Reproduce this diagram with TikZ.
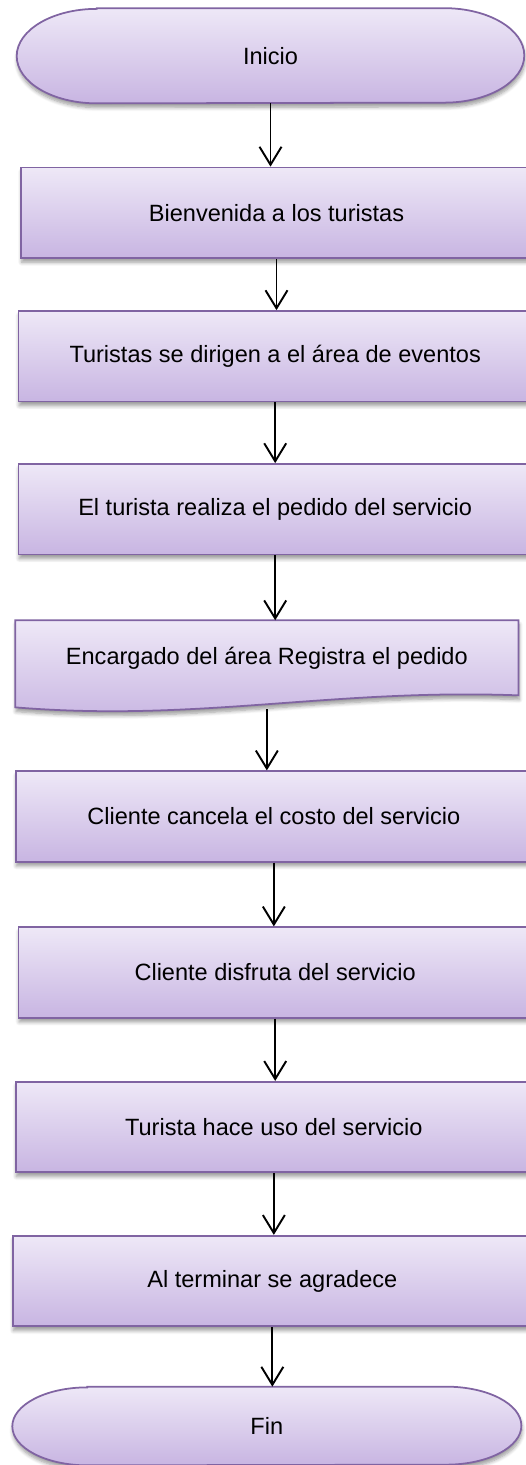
\documentclass[tikz,border=0pt]{standalone}
\usepackage{fontspec}
\setmainfont{Liberation Sans}
\usetikzlibrary{arrows.meta,calc,backgrounds,shadows.blur}
\definecolor{boxTop}{HTML}{EEE8F7}
\definecolor{boxBot}{HTML}{C8B5E2}
\definecolor{boxDraw}{HTML}{8064A2}
\tikzset{
  font=\fontsize{13.4}{16}\selectfont,
  flowfill/.style={top color=boxTop, bottom color=boxBot, draw=boxDraw, line width=1pt,
                   blur shadow={shadow xshift=0.4pt, shadow yshift=-2.4pt, shadow blur steps=6, shadow opacity=40}},
  proc/.style    ={flowfill, rectangle, minimum height=1.81cm, inner sep=0pt},
  term/.style    ={rectangle, inner sep=0pt},
  arr/.style     ={-{Straight Barb[length=3.6mm, width=4.4mm]}, line width=1.1pt},
}

\begin{document}
\begin{tikzpicture}[x=0.02cm, y=-0.02cm]
  \useasboundingbox (0,0) rectangle (526,1465);

  % start / end terminals (outline drawn below on the background layer)
  \node[term, minimum width=10.14cm, minimum height=1.89cm] (ini) at (270.5,55.75) {Inicio};
  \node[term, minimum width=10.17cm, minimum height=1.56cm] (fin) at (266.85,1426) {Fin};

  % process steps
  \node[proc, minimum width=10.22cm] (bien)     at (276.5,212.75) {Bienvenida a los turistas};
  \node[proc, minimum width=10.27cm] (dirig)    at (275.2,356.25) {Turistas se dirigen a el área de eventos};
  \node[proc, minimum width=10.27cm] (pedido)   at (275.2,509.25) {El turista realiza el pedido del servicio};
  \node[term, minimum width=10.05cm, minimum height=1.488cm] (reg) at (266.85,657.8) {Encargado del área Registra el pedido};
  \node[proc, minimum width=10.33cm] (cancela)  at (273.85,816.5) {Cliente cancela el costo del servicio};
  \node[proc, minimum width=10.27cm] (disfruta) at (275.2,972.5) {Cliente disfruta del servicio};
  \node[proc, minimum width=10.33cm] (uso)      at (273.85,1127) {Turista hace uso del servicio};
  \node[proc, minimum width=10.39cm] (agrad)    at (272.35,1281) {Al terminar se agradece};
  \coordinate (regb) at ($(reg.south)+(0,14)$);

  \begin{scope}[on background layer]
    \path[flowfill] ($(ini.north west)+(80,0)$) -- ($(ini.north east)+(-80,0)$)
      arc[start angle=90, end angle=-90, x radius=1.6cm, y radius=0.945cm]
      -- ($(ini.south west)+(80,0)$)
      arc[start angle=270, end angle=90, x radius=1.6cm, y radius=0.945cm] -- cycle;
    \path[flowfill] ($(fin.north west)+(75,0)$) -- ($(fin.north east)+(-75,0)$)
      arc[start angle=90, end angle=-90, x radius=1.5cm, y radius=0.78cm]
      -- ($(fin.south west)+(75,0)$)
      arc[start angle=270, end angle=90, x radius=1.5cm, y radius=0.78cm] -- cycle;
    % document shape with wavy bottom
    \path[flowfill] (reg.north west) -- (reg.north east) -- (reg.south east)
      .. controls ($(reg.south east)+(-188,-7)$) and ($(reg.south west)+(184,27)$) .. ($(reg.south west)+(0,12)$)
      -- cycle;
  \end{scope}

  \foreach \a/\b in {ini.south/bien, bien.south/dirig, dirig.south/pedido, pedido.south/reg,
                     regb/cancela, cancela.south/disfruta, disfruta.south/uso, uso.south/agrad, agrad.south/fin}
    \draw[arr] (\a) -- (\a |- \b.north);
\end{tikzpicture}
\end{document}
